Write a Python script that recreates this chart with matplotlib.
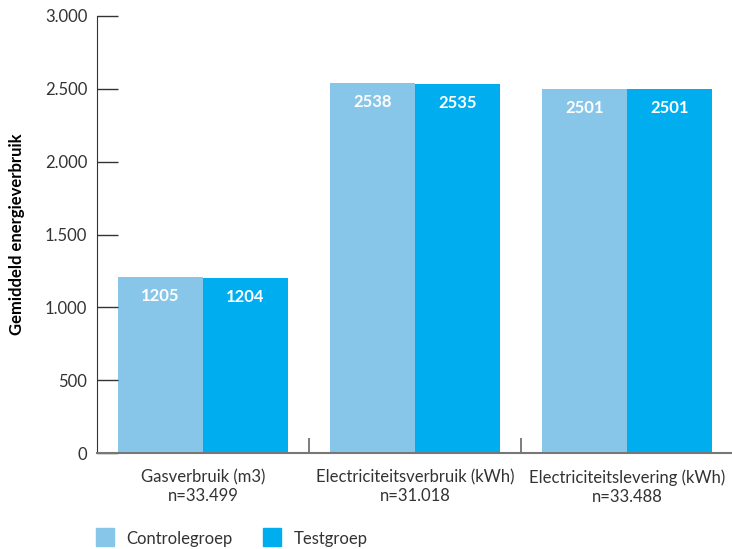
import numpy as np
import matplotlib.pyplot as plt
from matplotlib.patches import Rectangle

# Data
categories = ['Gasverbruik (m3)\nn=33.499',
              'Electriciteitsverbruik (kWh)\nn=31.018',
              'Electriciteitslevering (kWh)\nn=33.488']
controle = [1205, 2538, 2501]
test = [1204, 2535, 2501]
yticks = [0, 500, 1000, 1500, 2000, 2500, 3000]
ytick_labels = ['0', '500', '1.000', '1.500', '2.000', '2.500', '3.000']

c_controle = '#87C6E8'
c_test = '#00AEEF'

plt.rcParams['font.family'] = ['Lato', 'DejaVu Sans']

fig = plt.figure(figsize=(7.32, 5.49), dpi=100)
ax = fig.add_axes([97 / 732, 96 / 549, 636 / 732, 437 / 549])

x = np.arange(len(categories))
w = 0.4
b1 = ax.bar(x - w / 2, controle, w, color=c_controle, label='Controlegroep')
b2 = ax.bar(x + w / 2, test, w, color=c_test, label='Testgroep')

# Waarden in de balken
for bars, vals in [(b1, controle), (b2, test)]:
    for rect, v in zip(bars, vals):
        ax.text(rect.get_x() + rect.get_width() / 2, v - 130, str(v),
                ha='center', va='center', color='white', fontsize=12, fontweight='bold')

ax.set_xlim(-0.5, 2.5)
ax.set_ylim(0, 3000)
ax.set_yticks(yticks)
ax.set_yticklabels(ytick_labels, fontsize=12, color='#333333')
ax.tick_params(axis='y', direction='in', length=15, width=1, color='#333333', pad=7)

# Categorie-labels en scheidingsstreepjes
ax.set_xticks(x)
ax.set_xticklabels(categories, fontsize=12, color='#333333', linespacing=1.2)
ax.tick_params(axis='x', length=0, pad=12)
ax.set_xticks([0.5, 1.5], minor=True)
ax.tick_params(axis='x', which='minor', direction='in', length=11, width=1.2, color='#666666')

for s in ['top', 'right']:
    ax.spines[s].set_visible(False)
ax.spines['left'].set_color('#333333')
ax.spines['bottom'].set_color('#777777')
ax.spines['bottom'].set_linewidth(1.5)

ax.set_ylabel('Gemiddeld energieverbruik', fontsize=12, fontweight='bold')
ax.yaxis.set_label_coords(-72 / 636, 0.5)

# Legenda
fig.patches.append(Rectangle((96 / 732, 1 - 546 / 549), 18 / 732, 18 / 549,
                             transform=fig.transFigure, color=c_controle))
fig.text(126 / 732, 1 - 539 / 549, 'Controlegroep', fontsize=12, va='center', color='#333333')
fig.patches.append(Rectangle((263 / 732, 1 - 546 / 549), 18 / 732, 18 / 549,
                             transform=fig.transFigure, color=c_test))
fig.text(294 / 732, 1 - 539 / 549, 'Testgroep', fontsize=12, va='center', color='#333333')

plt.savefig('out.png', dpi=100)
